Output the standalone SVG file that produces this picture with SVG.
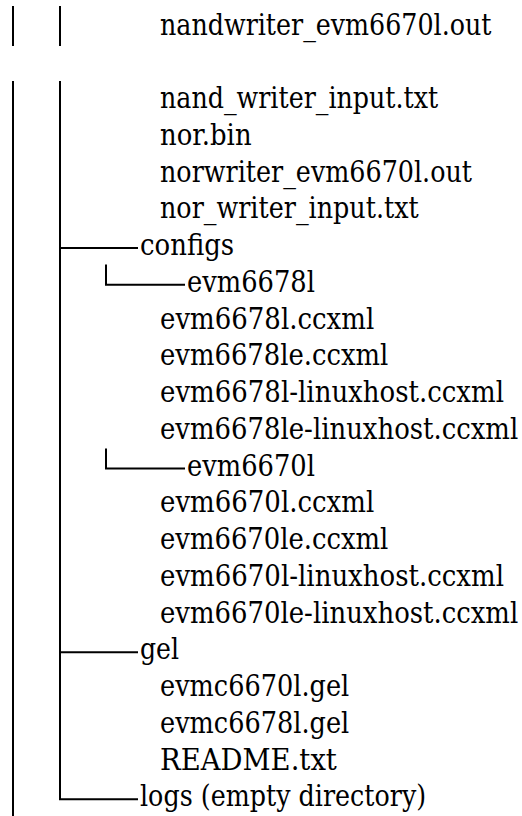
<svg xmlns="http://www.w3.org/2000/svg" width="522" height="816" viewBox="0 0 522 816">
<style>
  .t { font-family: 'DejaVu Serif', 'Liberation Serif', serif; font-size: 29px; fill: #000000; }
  .ln { stroke: #000000; stroke-width: 2; fill: none; }
</style>
<rect width="522" height="816" fill="#ffffff"/>
<g id="connectors">
  <line class="ln" x1="13" y1="6" x2="13" y2="46"/>
  <line class="ln" x1="60" y1="6" x2="60" y2="46"/>
  <line class="ln" x1="13" y1="81" x2="13" y2="816"/>
  <polyline class="ln" points="60,81 60,799.25 138,799.25"/>
  <line class="ln" x1="60" y1="248" x2="138" y2="248"/>
  <line class="ln" x1="60" y1="652.25" x2="138" y2="652.25"/>
  <polyline class="ln" points="106,264.5 106,284.75 185,284.75"/>
  <polyline class="ln" points="106,448.5 106,468.5 185,468.5"/>
</g>
<g class="t">
<g id="file-nandwriter-out"><text x="160" y="34.5" textLength="331.5" lengthAdjust="spacingAndGlyphs">nandwriter_evm6670l.out</text></g>
<g id="file-nand-writer-input"><text x="160" y="108" textLength="278.2" lengthAdjust="spacingAndGlyphs">nand_writer_input.txt</text></g>
<g id="file-nor-bin"><text x="160" y="144.75" textLength="91.6" lengthAdjust="spacingAndGlyphs">nor.bin</text></g>
<g id="file-norwriter-out"><text x="160" y="181.5" textLength="312" lengthAdjust="spacingAndGlyphs">norwriter_evm6670l.out</text></g>
<g id="file-nor-writer-input"><text x="160" y="218.25" textLength="258.7" lengthAdjust="spacingAndGlyphs">nor_writer_input.txt</text></g>
<g id="dir-configs"><text x="140" y="255" textLength="94.2" lengthAdjust="spacingAndGlyphs">configs</text></g>
<g id="dir-evm6678l"><text x="187" y="291.75" textLength="128" lengthAdjust="spacingAndGlyphs">evm6678l</text></g>
<g id="file-evm6678l-ccxml"><text x="160" y="328.5" textLength="214.2" lengthAdjust="spacingAndGlyphs">evm6678l.ccxml</text></g>
<g id="file-evm6678le-ccxml"><text x="160" y="365.25" textLength="228.4" lengthAdjust="spacingAndGlyphs">evm6678le.ccxml</text></g>
<g id="file-evm6678l-linux"><text x="160" y="402" textLength="344" lengthAdjust="spacingAndGlyphs">evm6678l-linuxhost.ccxml</text></g>
<g id="file-evm6678le-linux"><text x="160" y="438.75" textLength="358.2" lengthAdjust="spacingAndGlyphs">evm6678le-linuxhost.ccxml</text></g>
<g id="dir-evm6670l"><text x="187" y="475.5" textLength="128" lengthAdjust="spacingAndGlyphs">evm6670l</text></g>
<g id="file-evm6670l-ccxml"><text x="160" y="512.25" textLength="214.2" lengthAdjust="spacingAndGlyphs">evm6670l.ccxml</text></g>
<g id="file-evm6670le-ccxml"><text x="160" y="549" textLength="228.4" lengthAdjust="spacingAndGlyphs">evm6670le.ccxml</text></g>
<g id="file-evm6670l-linux"><text x="160" y="585.75" textLength="344" lengthAdjust="spacingAndGlyphs">evm6670l-linuxhost.ccxml</text></g>
<g id="file-evm6670le-linux"><text x="160" y="622.5" textLength="358.2" lengthAdjust="spacingAndGlyphs">evm6670le-linuxhost.ccxml</text></g>
<g id="dir-gel"><text x="140" y="659.25" textLength="39.1" lengthAdjust="spacingAndGlyphs">gel</text></g>
<g id="file-evmc6670l-gel"><text x="160" y="696" textLength="189.3" lengthAdjust="spacingAndGlyphs">evmc6670l.gel</text></g>
<g id="file-evmc6678l-gel"><text x="160" y="732.75" textLength="189.3" lengthAdjust="spacingAndGlyphs">evmc6678l.gel</text></g>
<g id="file-readme"><text x="160" y="769.5" textLength="176.9" lengthAdjust="spacingAndGlyphs">README.txt</text></g>
<g id="dir-logs"><text x="140" y="806.25" textLength="286.2" lengthAdjust="spacingAndGlyphs">logs (empty directory)</text></g>
</g>
</svg>
